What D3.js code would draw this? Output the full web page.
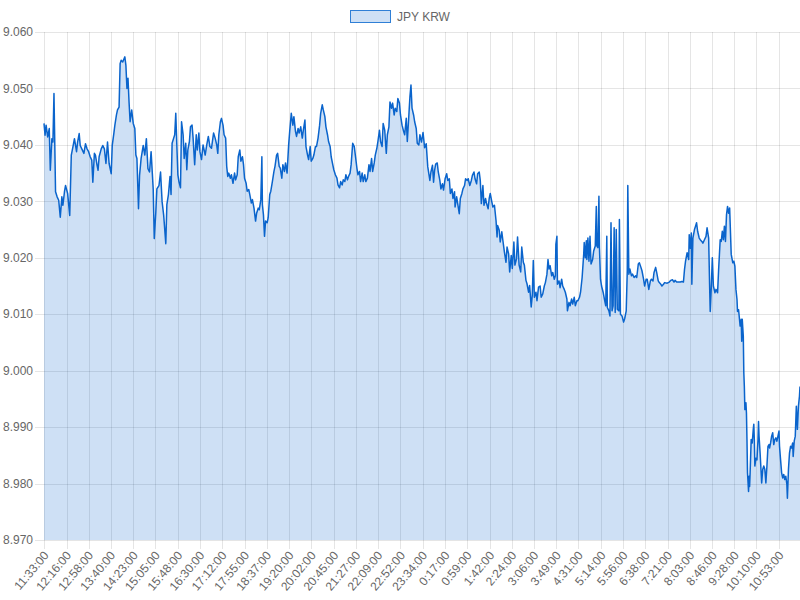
<!DOCTYPE html>
<html lang="en">
<head>
  <meta charset="utf-8">
  <title>JPY KRW</title>
  <style>
    body {
      margin: 0;
      background: #fff;
    }

    .grid line {
      stroke: rgba(0, 0, 0, 0.1);
      stroke-width: 1;
      shape-rendering: crispEdges;
    }

    .tick-label, .legend text {
      font: 12px "Liberation Sans", Arial, Helvetica, sans-serif;
      fill: #666;
    }

    .area {
      fill: rgba(10, 100, 204, 0.2);
    }

    .line {
      fill: none;
      stroke: #0a64cc;
      stroke-width: 1.5;
      stroke-linejoin: round;
    }
  </style>
</head>
<body>
  <div id="chart"></div>

  <script src="https://d3js.org/d3.v7.min.js"></script>
  <script>
    var seriesName = "JPY KRW";

    // minutes after 11:33:00
    var minutes = [
      0, 2, 4, 7, 10, 12, 15, 17, 19, 22,
      25, 28, 31, 34, 36, 39, 41, 45, 49, 52,
      55, 58, 62, 64, 67, 69, 72, 76, 79, 82,
      85, 88, 91, 93, 96, 98, 101, 103, 105, 109,
      112, 115, 118, 121, 124, 128, 130, 133, 135, 138,
      140, 143, 145, 147, 150, 154, 156, 158, 160, 162,
      164, 167, 170, 173, 175, 177, 180, 182, 185, 189,
      192, 195, 198, 201, 204, 208, 210, 213, 215, 219,
      222, 225, 228, 232, 234, 237, 240, 242, 244, 247,
      249, 251, 253, 255, 257, 260, 262, 265, 267, 270,
      272, 274, 277, 279, 282, 284, 287, 290, 292, 295,
      297, 300, 303, 307, 310, 313, 316, 319, 323, 326,
      329, 331, 333, 336, 338, 341, 343, 346, 348, 350,
      352, 355, 357, 360, 363, 365, 368, 370, 373, 375,
      378, 380, 382, 385, 387, 390, 392, 395, 397, 400,
      403, 405, 408, 410, 413, 415, 416, 418, 420, 422,
      425, 427, 430, 432, 435, 438, 440, 443, 445, 448,
      450, 453, 455, 458, 460, 463, 466, 468, 471, 474,
      476, 479, 481, 484, 486, 489, 492, 494, 497, 499,
      502, 504, 507, 509, 512, 514, 517, 519, 522, 525,
      527, 530, 532, 535, 537, 540, 542, 545, 547, 550,
      552, 555, 558, 560, 563, 565, 568, 570, 573, 575,
      578, 580, 583, 585, 588, 591, 593, 596, 598, 601,
      603, 606, 608, 611, 613, 616, 619, 621, 624, 626,
      629, 631, 634, 636, 639, 641, 644, 646, 649, 652,
      654, 657, 659, 662, 664, 667, 669, 672, 674, 677,
      679, 682, 685, 687, 690, 692, 695, 697, 699, 701,
      704, 706, 709, 711, 714, 716, 719, 722, 725, 728,
      731, 735, 737, 740, 742, 744, 746, 749, 751, 754,
      756, 759, 761, 764, 767, 769, 772, 774, 777, 779,
      782, 783, 786, 788, 791, 793, 796, 798, 801, 803,
      806, 808, 811, 814, 816, 819, 821, 824, 826, 829,
      831, 833, 836, 838, 841, 843, 846, 848, 850, 853,
      855, 858, 861, 863, 864, 867, 869, 872, 874, 877,
      880, 882, 885, 887, 890, 892, 895, 897, 900, 902,
      905, 908, 910, 913, 915, 918, 920, 923, 925, 928,
      930, 932, 934, 937, 939, 942, 945, 947, 950, 953,
      955, 958, 960, 962, 964, 967, 969, 972, 974, 975,
      977, 978, 981, 983, 986, 988, 991, 993, 996, 997,
      1000, 1002, 1005, 1007, 1010, 1012, 1015, 1017, 1020, 1022,
      1025, 1028, 1029, 1031, 1033, 1034, 1036, 1038, 1040, 1042,
      1045, 1047, 1050, 1052, 1053, 1055, 1057, 1058, 1060, 1062,
      1065, 1068, 1070, 1072, 1073, 1076, 1078, 1080, 1082, 1084,
      1086, 1088, 1090, 1092, 1095, 1096, 1098, 1101, 1104, 1106,
      1109, 1111, 1112, 1114, 1116, 1119, 1121, 1124, 1127, 1129,
      1132, 1134, 1137, 1139, 1142, 1144, 1147, 1149, 1152, 1155,
      1157, 1160, 1162, 1165, 1167, 1170, 1172, 1175, 1177, 1180,
      1182, 1187, 1191, 1194, 1197, 1200, 1202, 1205, 1208, 1212,
      1215, 1218, 1220, 1222, 1225, 1228, 1229, 1231, 1233, 1234,
      1236, 1239, 1241, 1243, 1245, 1248, 1250, 1253, 1255, 1258,
      1261, 1263, 1266, 1268, 1269, 1271, 1273, 1275, 1278, 1280,
      1283, 1285, 1288, 1290, 1292, 1294, 1296, 1298, 1300, 1302,
      1304, 1306, 1309, 1312, 1314, 1316, 1318, 1320, 1321, 1323,
      1326, 1328, 1329, 1330, 1332, 1333, 1334, 1335, 1337, 1338,
      1339, 1340, 1342, 1343, 1344, 1345, 1347, 1349, 1351, 1352,
      1353, 1354, 1356, 1358, 1360, 1361, 1362, 1364, 1366, 1367,
      1369, 1371, 1373, 1375, 1377, 1379, 1381, 1382, 1384, 1386,
      1388, 1390, 1392, 1394, 1396, 1398, 1400, 1401, 1403, 1405,
      1407, 1409, 1411, 1413, 1415, 1416, 1418, 1420, 1422, 1424,
      1426, 1427, 1429, 1431, 1433, 1435, 1437, 1439, 1440
    ];

    var rates = [
      9.0438, 9.0417, 9.0435, 9.0414, 9.0429, 9.0355, 9.0411, 9.0405, 9.0491, 9.0317,
      9.0308, 9.0302, 9.0272, 9.0308, 9.0293, 9.0317, 9.0328, 9.0314, 9.0275, 9.0382,
      9.0396, 9.0411, 9.0388, 9.0405, 9.0420, 9.0399, 9.0393, 9.0385, 9.0402, 9.0393,
      9.0388, 9.0379, 9.0373, 9.0334, 9.0385, 9.0382, 9.0364, 9.0355, 9.0379, 9.0393,
      9.0399, 9.0393, 9.0367, 9.0405, 9.0367, 9.0349, 9.0399, 9.0420, 9.0435, 9.0453,
      9.0462, 9.0467, 9.0544, 9.0550, 9.0547, 9.0556, 9.0541, 9.0500, 9.0518, 9.0476,
      9.0441, 9.0462, 9.0438, 9.0429, 9.0382, 9.0376, 9.0287, 9.0346, 9.0376, 9.0399,
      9.0382, 9.0411, 9.0358, 9.0352, 9.0388, 9.0322, 9.0234, 9.0281, 9.0322, 9.0328,
      9.0352, 9.0299, 9.0275, 9.0225, 9.0294, 9.0312, 9.0344, 9.0312, 9.0403, 9.0412,
      9.0418, 9.0456, 9.0400, 9.0347, 9.0335, 9.0324, 9.0441, 9.0418, 9.0376, 9.0403,
      9.0356, 9.0391, 9.0406, 9.0432, 9.0435, 9.0412, 9.0365, 9.0418, 9.0391, 9.0421,
      9.0388, 9.0374, 9.0400, 9.0382, 9.0400, 9.0415, 9.0397, 9.0394, 9.0421, 9.0412,
      9.0400, 9.0385, 9.0418, 9.0441, 9.0447, 9.0435, 9.0418, 9.0412, 9.0362, 9.0344,
      9.0350, 9.0341, 9.0347, 9.0332, 9.0350, 9.0338, 9.0347, 9.0379, 9.0391, 9.0371,
      9.0379, 9.0365, 9.0341, 9.0332, 9.0318, 9.0321, 9.0312, 9.0297, 9.0303, 9.0288,
      9.0265, 9.0279, 9.0288, 9.0285, 9.0303, 9.0379, 9.0294, 9.0276, 9.0238, 9.0265,
      9.0262, 9.0271, 9.0312, 9.0318, 9.0335, 9.0353, 9.0362, 9.0382, 9.0385, 9.0362,
      9.0359, 9.0341, 9.0365, 9.0353, 9.0368, 9.0350, 9.0400, 9.0424, 9.0456, 9.0435,
      9.0450, 9.0424, 9.0415, 9.0429, 9.0421, 9.0432, 9.0412, 9.0426, 9.0444, 9.0397,
      9.0382, 9.0374, 9.0397, 9.0371, 9.0376, 9.0382, 9.0397, 9.0397, 9.0412, 9.0435,
      9.0456, 9.0471, 9.0462, 9.0450, 9.0432, 9.0418, 9.0406, 9.0397, 9.0379, 9.0365,
      9.0356, 9.0347, 9.0341, 9.0329, 9.0324, 9.0335, 9.0329, 9.0338, 9.0335, 9.0347,
      9.0338, 9.0344, 9.0350, 9.0365, 9.0403, 9.0397, 9.0382, 9.0359, 9.0347, 9.0353,
      9.0335, 9.0350, 9.0335, 9.0347, 9.0335, 9.0341, 9.0365, 9.0353, 9.0376, 9.0353,
      9.0368, 9.0382, 9.0394, 9.0406, 9.0426, 9.0406, 9.0397, 9.0438, 9.0426, 9.0385,
      9.0418, 9.0432, 9.0476, 9.0465, 9.0474, 9.0453, 9.0465, 9.0459, 9.0482, 9.0474,
      9.0453, 9.0435, 9.0424, 9.0418, 9.0447, 9.0406, 9.0453, 9.0485, 9.0506, 9.0465,
      9.0453, 9.0441, 9.0429, 9.0403, 9.0400, 9.0418, 9.0405, 9.0422, 9.0395, 9.0402,
      9.0361, 9.0337, 9.0352, 9.0364, 9.0334, 9.0355, 9.0366, 9.0368, 9.0352, 9.0337,
      9.0322, 9.0331, 9.0320, 9.0340, 9.0349, 9.0337, 9.0340, 9.0314, 9.0322, 9.0305,
      9.0317, 9.0290, 9.0308, 9.0296, 9.0278, 9.0305, 9.0314, 9.0322, 9.0328, 9.0340,
      9.0337, 9.0340, 9.0328, 9.0337, 9.0346, 9.0352, 9.0340, 9.0331, 9.0349, 9.0352,
      9.0337, 9.0296, 9.0328, 9.0293, 9.0305, 9.0296, 9.0287, 9.0305, 9.0314, 9.0299,
      9.0290, 9.0293, 9.0266, 9.0237, 9.0257, 9.0249, 9.0228, 9.0246, 9.0231, 9.0210,
      9.0192, 9.0219, 9.0207, 9.0175, 9.0204, 9.0181, 9.0228, 9.0187, 9.0198, 9.0237,
      9.0187, 9.0175, 9.0219, 9.0192, 9.0187, 9.0160, 9.0154, 9.0139, 9.0151, 9.0113,
      9.0133, 9.0195, 9.0130, 9.0139, 9.0124, 9.0148, 9.0150, 9.0130, 9.0136, 9.0150,
      9.0156, 9.0171, 9.0197, 9.0180, 9.0186, 9.0168, 9.0174, 9.0162, 9.0168, 9.0224,
      9.0238, 9.0153, 9.0159, 9.0147, 9.0162, 9.0150, 9.0144, 9.0139, 9.0127, 9.0106,
      9.0121, 9.0115, 9.0127, 9.0118, 9.0130, 9.0115, 9.0124, 9.0124, 9.0130, 9.0139,
      9.0165, 9.0206, 9.0227, 9.0200, 9.0230, 9.0197, 9.0235, 9.0194, 9.0238, 9.0189,
      9.0197, 9.0212, 9.0221, 9.0291, 9.0221, 9.0218, 9.0309, 9.0218, 9.0162, 9.0150,
      9.0139, 9.0124, 9.0115, 9.0238, 9.0112, 9.0106, 9.0097, 9.0262, 9.0106, 9.0115,
      9.0253, 9.0103, 9.0250, 9.0109, 9.0106, 9.0268, 9.0100, 9.0097, 9.0086, 9.0092,
      9.0106, 9.0177, 9.0328, 9.0171, 9.0180, 9.0168, 9.0171, 9.0165, 9.0168, 9.0165,
      9.0189, 9.0191, 9.0183, 9.0177, 9.0162, 9.0150, 9.0162, 9.0162, 9.0144, 9.0159,
      9.0162, 9.0159, 9.0174, 9.0183, 9.0174, 9.0159, 9.0156, 9.0153, 9.0150, 9.0153,
      9.0156, 9.0155, 9.0157, 9.0160, 9.0161, 9.0157, 9.0160, 9.0157, 9.0157, 9.0157,
      9.0158, 9.0157, 9.0179, 9.0194, 9.0209, 9.0197, 9.0241, 9.0217, 9.0244, 9.0153,
      9.0235, 9.0250, 9.0256, 9.0262, 9.0247, 9.0235, 9.0232, 9.0229, 9.0226, 9.0232,
      9.0238, 9.0253, 9.0235, 9.0144, 9.0105, 9.0147, 9.0200, 9.0150, 9.0138, 9.0144,
      9.0138, 9.0179, 9.0232, 9.0229, 9.0247, 9.0232, 9.0256, 9.0229, 9.0276, 9.0291,
      9.0279, 9.0288, 9.0206, 9.0191, 9.0194, 9.0185, 9.0144, 9.0126, 9.0105, 9.0108,
      9.0079, 9.0091, 9.0052, 9.0091, 9.0061, 8.9996, 8.9972, 8.9931, 8.9943, 8.9925,
      8.9878, 8.9819, 8.9786, 8.9813, 8.9795, 8.9819, 8.9878, 8.9872, 8.9896, 8.9905,
      8.9878, 8.9831, 8.9845, 8.9842, 8.9878, 8.9910, 8.9884, 8.9854, 8.9819, 8.9801,
      8.9825, 8.9831, 8.9825, 8.9801, 8.9831, 8.9866, 8.9869, 8.9863, 8.9872, 8.9884,
      8.9890, 8.9869, 8.9878, 8.9881, 8.9875, 8.9884, 8.9893, 8.9866, 8.9842, 8.9819,
      8.9810, 8.9816, 8.9807, 8.9813, 8.9798, 8.9774, 8.9825, 8.9854, 8.9866, 8.9863,
      8.9872, 8.9848, 8.9875, 8.9884, 8.9937, 8.9896, 8.9937, 8.9955, 8.9972
    ];

    var tickLabels = [
      "11:33:00", "12:16:00", "12:58:00", "13:40:00", "14:23:00", "15:05:00",
      "15:48:00", "16:30:00", "17:12:00", "17:55:00", "18:37:00", "19:20:00",
      "20:02:00", "20:45:00", "21:27:00", "22:09:00", "22:52:00", "23:34:00",
      "0:17:00", "0:59:00", "1:42:00", "2:24:00", "3:06:00", "3:49:00",
      "4:31:00", "5:14:00", "5:56:00", "6:38:00", "7:21:00", "8:03:00",
      "8:46:00", "9:28:00", "10:10:00", "10:53:00"
    ];

    var yMin = 8.970, yMax = 9.060, yStep = 0.010;

    if (minutes.length !== rates.length) {
      console.warn("minutes/rates length mismatch", minutes.length, rates.length);
    }

    var data = d3.range(Math.min(minutes.length, rates.length)).map(function(i) {
      return { t: minutes[i], v: rates[i] };
    });

    // clock label -> minutes after the first label
    function labelMinutes(s) {
      var p = s.split(":");
      var m = (+p[0]) * 60 + (+p[1]);
      return (m - (11 * 60 + 33) + 1440) % 1440;
    }

    var ticks = tickLabels.map(function(s) { return { label: s, t: labelMinutes(s) }; });

    var margin = { top: 32, right: 0, bottom: 60, left: 44 },
        width = 800 - margin.left - margin.right,
        height = 600 - margin.top - margin.bottom;

    var x = d3.scaleLinear()
              .domain([0, 1440])
              .range([0, width]);

    var y = d3.scaleLinear()
              .domain([yMin, yMax])
              .range([height, 0]);

    var yTicks = d3.range(0, Math.round((yMax - yMin) / yStep) + 1).map(function(i) {
      return yMin + i * yStep;
    });

    var svg = d3.select("#chart").append("svg")
                .attr("width", width + margin.left + margin.right)
                .attr("height", height + margin.top + margin.bottom);

    var g = svg.append("g")
               .attr("transform", "translate(" + margin.left + "," + margin.top + ")");

    // grid + tick marks
    var grid = g.append("g").attr("class", "grid");

    grid.selectAll(".hgrid")
        .data(yTicks)
        .enter().append("line")
        .attr("class", "hgrid")
        .attr("x1", -9)
        .attr("x2", width)
        .attr("y1", function(d) { return Math.round(y(d)) + 0.5; })
        .attr("y2", function(d) { return Math.round(y(d)) + 0.5; });

    grid.selectAll(".vgrid")
        .data(ticks)
        .enter().append("line")
        .attr("class", "vgrid")
        .attr("y1", 0)
        .attr("y2", height + 9)
        .attr("x1", function(d) { return Math.round(x(d.t)) + 0.5; })
        .attr("x2", function(d) { return Math.round(x(d.t)) + 0.5; });

    // area and line
    var area = d3.area()
                 .x(function(d) { return x(d.t); })
                 .y0(height)
                 .y1(function(d) { return y(d.v); });

    var line = d3.line()
                 .x(function(d) { return x(d.t); })
                 .y(function(d) { return y(d.v); });

    g.append("path")
        .datum(data)
        .attr("class", "area")
        .attr("d", area);

    g.append("path")
        .datum(data)
        .attr("class", "line")
        .attr("d", line);

    // y labels
    g.selectAll(".ylab")
        .data(yTicks)
        .enter().append("text")
        .attr("class", "tick-label ylab")
        .attr("x", -11)
        .attr("y", function(d) { return y(d); })
        .attr("dy", "0.35em")
        .attr("text-anchor", "end")
        .text(function(d) { return d3.format(".3f")(d); });

    // x labels, rotated
    g.selectAll(".xlab")
        .data(ticks)
        .enter().append("text")
        .attr("class", "tick-label xlab")
        .attr("text-anchor", "end")
        .attr("dy", "0.35em")
        .attr("transform", function(d) {
          return "translate(" + (x(d.t) + 2) + "," + (height + 13) + ") rotate(-50)";
        })
        .text(function(d) { return d.label; });

    // legend
    var legend = svg.append("g").attr("class", "legend");

    legend.append("rect")
        .attr("x", 350.5)
        .attr("y", 10.5)
        .attr("width", 40)
        .attr("height", 12)
        .attr("fill", "rgba(10, 100, 204, 0.2)")
        .attr("stroke", "#2f7fd6")
        .attr("stroke-width", 1);

    legend.append("text")
        .attr("x", 397)
        .attr("y", 16.5)
        .attr("dy", "0.35em")
        .text(seriesName);
  </script>
</body>
</html>
